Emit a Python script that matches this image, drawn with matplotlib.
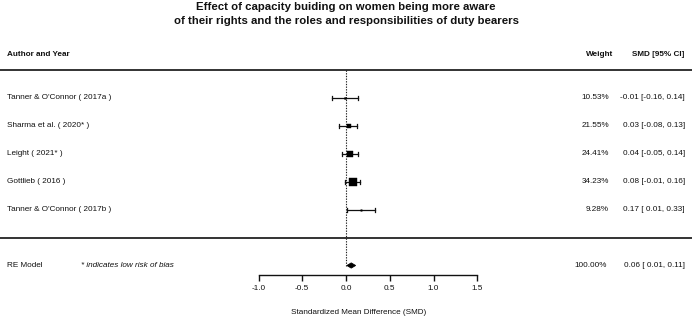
import matplotlib
matplotlib.use("Agg")
import matplotlib.pyplot as plt
import numpy as np

plt.rcParams['font.family'] = ['Liberation Sans', 'DejaVu Sans']

# ---- data ----
studies = ["Tanner & O'Connor ( 2017a )", "Sharma et al. ( 2020* )", "Leight ( 2021* )",
           "Gottlieb ( 2016 )", "Tanner & O'Connor ( 2017b )"]
smd = [-0.01, 0.03, 0.04, 0.08, 0.17]
ci_lo = [-0.16, -0.08, -0.05, -0.01, 0.01]
ci_hi = [0.14, 0.13, 0.14, 0.16, 0.33]
weights = [10.53, 21.55, 24.41, 34.23, 9.28]
re_label = "RE Model"
re_est, re_lo, re_hi, re_weight = 0.06, 0.01, 0.11, 100.00
xticks = [-1.0, -0.5, 0.0, 0.5, 1.0, 1.5]
title_lines = ["Effect of capacity buiding on women being more aware",
               "of their rights and the roles and responsibilities of duty bearers"]
note = "* indicates low risk of bias"
xlabel = "Standardized Mean Difference (SMD)"

# ---- layout ----
W, H, DPI = 692, 321, 100
fig = plt.figure(figsize=(W / DPI, H / DPI), dpi=DPI)
ax = fig.add_axes([0, 0, 1, 1])
ppu_x = 87.5      # pixels per SMD unit
x0_px = 346.0     # pixel of SMD 0
ppu_y = 28.0      # pixels per row
row5_px = 97.5    # pixel of top study row (row 5)

xmin = -x0_px / ppu_x
xmax = (W - x0_px) / ppu_x
ymax = 5 + row5_px / ppu_y
ymin = 5 - (H - row5_px) / ppu_y
ax.set_xlim(xmin, xmax)
ax.set_ylim(ymin, ymax)
ax.patch.set_alpha(0)

def px_x(p):
    return (p - x0_px) / ppu_x

def px_y(p):
    return 5 - (p - row5_px) / ppu_y

k = len(studies)
rows = np.arange(k, 0, -1)
fs = 5.9
col = '#111111'

# header
ax.text(px_x(7), px_y(55), "Author and Year", fontsize=fs, fontweight='bold', ha='left', va='center', color=col)
ax.text(px_x(613), px_y(55), "Weight", fontsize=fs, fontweight='bold', ha='right', va='center', color=col)
ax.text(px_x(684), px_y(55), "SMD [95% CI]", fontsize=fs, fontweight='bold', ha='right', va='center', color=col)

# separator lines
ax.axhline(k + 1, color='#333333', lw=1.4)
ax.axhline(0, color='#333333', lw=1.4)

# reference line
ax.plot([0, 0], [-1, k + 1], color='#222222', lw=0.8, ls=(0, (1.2, 1.2)))

# study rows
wmin, wmax = min(weights), max(weights)
cap = 2.0 / ppu_y
for r, name, m, lo, hi, w in zip(rows, studies, smd, ci_lo, ci_hi, weights):
    ax.plot([lo, hi], [r, r], color='#111111', lw=0.9)
    ax.plot([lo, lo], [r - cap, r + cap], color='#111111', lw=0.9)
    ax.plot([hi, hi], [r - cap, r + cap], color='#111111', lw=0.9)
    size_px = 1.5 + 6.5 * (w - wmin) / (wmax - wmin)
    ax.plot([m], [r], marker='s', ms=size_px * 72 / DPI, color='black', mec='black', mew=0.3)
    ax.text(px_x(7), r, name, fontsize=fs, ha='left', va='center', color=col)
    ax.text(px_x(609), r, f"{w:.2f}%", fontsize=fs, ha='right', va='center', color=col)
    ax.text(px_x(685), r, f"{m:.2f} [{lo:5.2f}, {hi:.2f}]", fontsize=fs, ha='right', va='center', color=col)

# RE model
ry = -1
dh = 2.6 / ppu_y
ax.fill([re_lo, re_est, re_hi, re_est], [ry, ry + dh, ry, ry - dh], color='black', lw=0.6, ec='black')
ax.text(px_x(7), ry, re_label, fontsize=fs, ha='left', va='center', color=col)
ax.text(px_x(81), ry, note, fontsize=fs, style='italic', ha='left', va='center', color=col)
ax.text(px_x(607), ry, f"{re_weight:.2f}%", fontsize=fs, ha='right', va='center', color=col)
ax.text(px_x(685), ry, f"{re_est:.2f} [{re_lo:5.2f}, {re_hi:.2f}]", fontsize=fs, ha='right', va='center', color=col)

# x axis
for s in ['top', 'left', 'right']:
    ax.spines[s].set_visible(False)
ax.spines['bottom'].set_position(('data', px_y(275)))
ax.spines['bottom'].set_bounds(xticks[0], xticks[-1])
ax.spines['bottom'].set_linewidth(1.0)
ax.spines['bottom'].set_color('#111111')
ax.set_xticks(xticks)
ax.set_xticklabels([f"{t:.1f}" for t in xticks])
ax.tick_params(axis='x', direction='out', length=4.5, width=1.0, pad=3, labelsize=fs, colors='#111111')
ax.set_yticks([])

ax.text(px_x(359), px_y(313), xlabel, fontsize=fs, ha='center', va='center', color=col)

# title
for i, line in enumerate(title_lines):
    fig.text(0.5, 1 - (6.5 + 14.5 * i) / H, line, fontsize=8.2, fontweight='bold', ha='center', va='center', color=col)

fig.savefig("out.png", dpi=DPI)
